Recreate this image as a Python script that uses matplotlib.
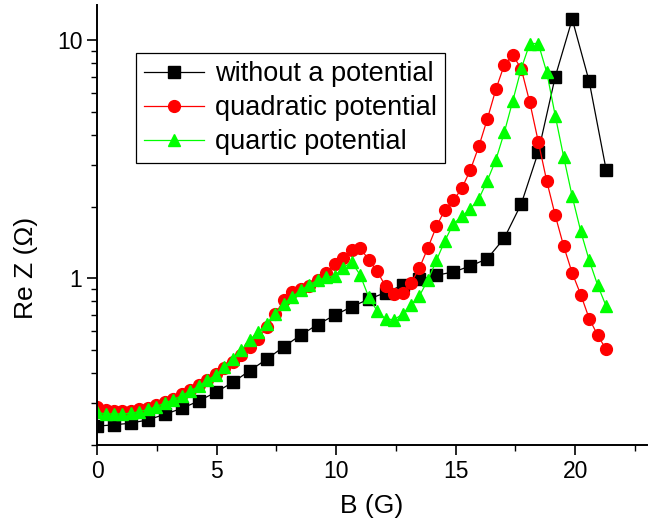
import matplotlib
matplotlib.use("Agg")
import matplotlib.pyplot as plt
from matplotlib.ticker import LogLocator, FuncFormatter, MultipleLocator, NullFormatter


OUTPUT_PATH = "out.png"

# B (G) for the coarse series (no potential)
B_COARSE = [
    0.0, 0.71, 1.42, 2.13, 2.84, 3.55, 4.26, 4.97, 5.68, 6.39,
    7.1, 7.81, 8.52, 9.23, 9.94, 10.65, 11.36, 12.07, 12.78, 13.49,
    14.2, 14.91, 15.62, 16.33, 17.04, 17.75, 18.46, 19.17, 19.88, 20.59,
    21.3,
]

# B (G) for the fine series (quadratic / quartic)
B_FINE = [
    0.0, 0.355, 0.71, 1.065, 1.42, 1.775, 2.13, 2.485, 2.84, 3.195,
    3.55, 3.905, 4.26, 4.615, 4.97, 5.325, 5.68, 6.035, 6.39, 6.745,
    7.1, 7.455, 7.81, 8.165, 8.52, 8.875, 9.23, 9.585, 9.94, 10.295,
    10.65, 11.005, 11.36, 11.715, 12.07, 12.425, 12.78, 13.135, 13.49, 13.845,
    14.2, 14.555, 14.91, 15.265, 15.62, 15.975, 16.33, 16.685, 17.04, 17.395,
    17.75, 18.105, 18.46, 18.815, 19.17, 19.525, 19.88, 20.235, 20.59, 20.945,
    21.3,
]

Z_NONE = [
    0.240, 0.243, 0.247, 0.255, 0.269, 0.285, 0.306, 0.333, 0.366, 0.410,
    0.458, 0.516, 0.578, 0.640, 0.700, 0.759, 0.817, 0.871, 0.935, 0.990,
    1.03, 1.063, 1.126, 1.209, 1.475, 2.054, 3.38, 7.00, 12.2, 6.69,
    2.85,
]

Z_QUADRATIC = [
    0.289, 0.280, 0.278, 0.278, 0.279, 0.282, 0.287, 0.294, 0.303, 0.313,
    0.326, 0.340, 0.357, 0.374, 0.397, 0.420, 0.447, 0.479, 0.514, 0.556,
    0.624, 0.707, 0.809, 0.874, 0.900, 0.926, 0.981, 1.049, 1.144, 1.212,
    1.310, 1.344, 1.197, 1.073, 0.926, 0.861, 0.870, 0.956, 1.106, 1.344,
    1.651, 1.939, 2.120, 2.387, 2.850, 3.578, 4.659, 6.196, 7.861, 8.630,
    7.542, 5.467, 3.743, 2.554, 1.835, 1.361, 1.052, 0.855, 0.678, 0.577,
    0.503,
]

Z_QUARTIC = [
    0.274, 0.270, 0.270, 0.270, 0.272, 0.276, 0.282, 0.290, 0.300, 0.310,
    0.322, 0.337, 0.353, 0.374, 0.393, 0.424, 0.461, 0.500, 0.550, 0.596,
    0.645, 0.707, 0.784, 0.835, 0.891, 0.939, 0.981, 1.010, 1.024, 1.106,
    1.170, 1.034, 0.837, 0.730, 0.675, 0.671, 0.707, 0.775, 0.845, 0.984,
    1.189, 1.438, 1.694, 1.817, 1.957, 2.155, 2.570, 3.138, 4.094, 5.557,
    7.586, 9.649, 9.649, 7.300, 4.808, 3.218, 2.203, 1.577, 1.189, 0.935,
    0.764,
]

LABELS = [
    "without a potential",
    "quadratic potential",
    "quartic potential",
]


def plot_re_z():

    plt.rcParams["font.family"] = ["Liberation Sans", "DejaVu Sans"]

    fig = plt.figure(figsize=(6.6, 5.27), dpi=100)
    ax = fig.add_axes([0.147, 0.1556, 0.833, 0.835])

    ax.plot(
        B_COARSE, Z_NONE,
        color="black", linewidth=0.9,
        marker="s", markersize=8, markerfacecolor="black",
        markeredgecolor="black", label=LABELS[0],
    )
    ax.plot(
        B_FINE, Z_QUADRATIC,
        color="#ff0000", linewidth=0.9,
        marker="o", markersize=8.5, markerfacecolor="#ff0000",
        markeredgecolor="#ff0000", label=LABELS[1],
    )
    ax.plot(
        B_FINE, Z_QUARTIC,
        color="#00ff00", linewidth=0.9,
        marker="^", markersize=9, markerfacecolor="#00ff00",
        markeredgecolor="#00ff00", label=LABELS[2],
    )

    ax.set_yscale("log")
    ax.set_xlim(0, 23)
    ax.set_ylim(0.2, 14)

    ax.xaxis.set_major_locator(MultipleLocator(5))
    ax.xaxis.set_minor_locator(MultipleLocator(2.5))

    ax.yaxis.set_major_locator(LogLocator(base=10, numticks=10))
    ax.yaxis.set_minor_locator(LogLocator(base=10, subs=range(2, 10), numticks=20))
    ax.yaxis.set_major_formatter(FuncFormatter(lambda v, p: "%g" % v))
    ax.yaxis.set_minor_formatter(NullFormatter())

    for side in ["top", "right"]:
        ax.spines[side].set_visible(False)
    for side in ["left", "bottom"]:
        ax.spines[side].set_linewidth(1.4)

    ax.tick_params(which="major", direction="out", length=7, width=1.2, labelsize=16.5)
    ax.tick_params(which="minor", direction="out", length=4, width=1.0)

    ax.set_xlabel("B (G)", fontsize=19, labelpad=8)
    ax.set_ylabel("Re Z (\u03a9)", fontsize=19)
    ax.yaxis.set_label_coords(-0.107, 0.402)

    leg = ax.legend(
        loc="upper left",
        bbox_to_anchor=(0.071, 0.891),
        borderaxespad=0,
        fontsize=19.5,
        frameon=True,
        fancybox=False,
        framealpha=1,
        edgecolor="black",
        handlelength=2.2,
        handletextpad=0.4,
        labelspacing=0.3,
        borderpad=0.3,
    )
    leg.get_frame().set_linewidth(0.9)

    fig.savefig(OUTPUT_PATH, dpi=100)


if __name__ == "__main__":

    plot_re_z()
